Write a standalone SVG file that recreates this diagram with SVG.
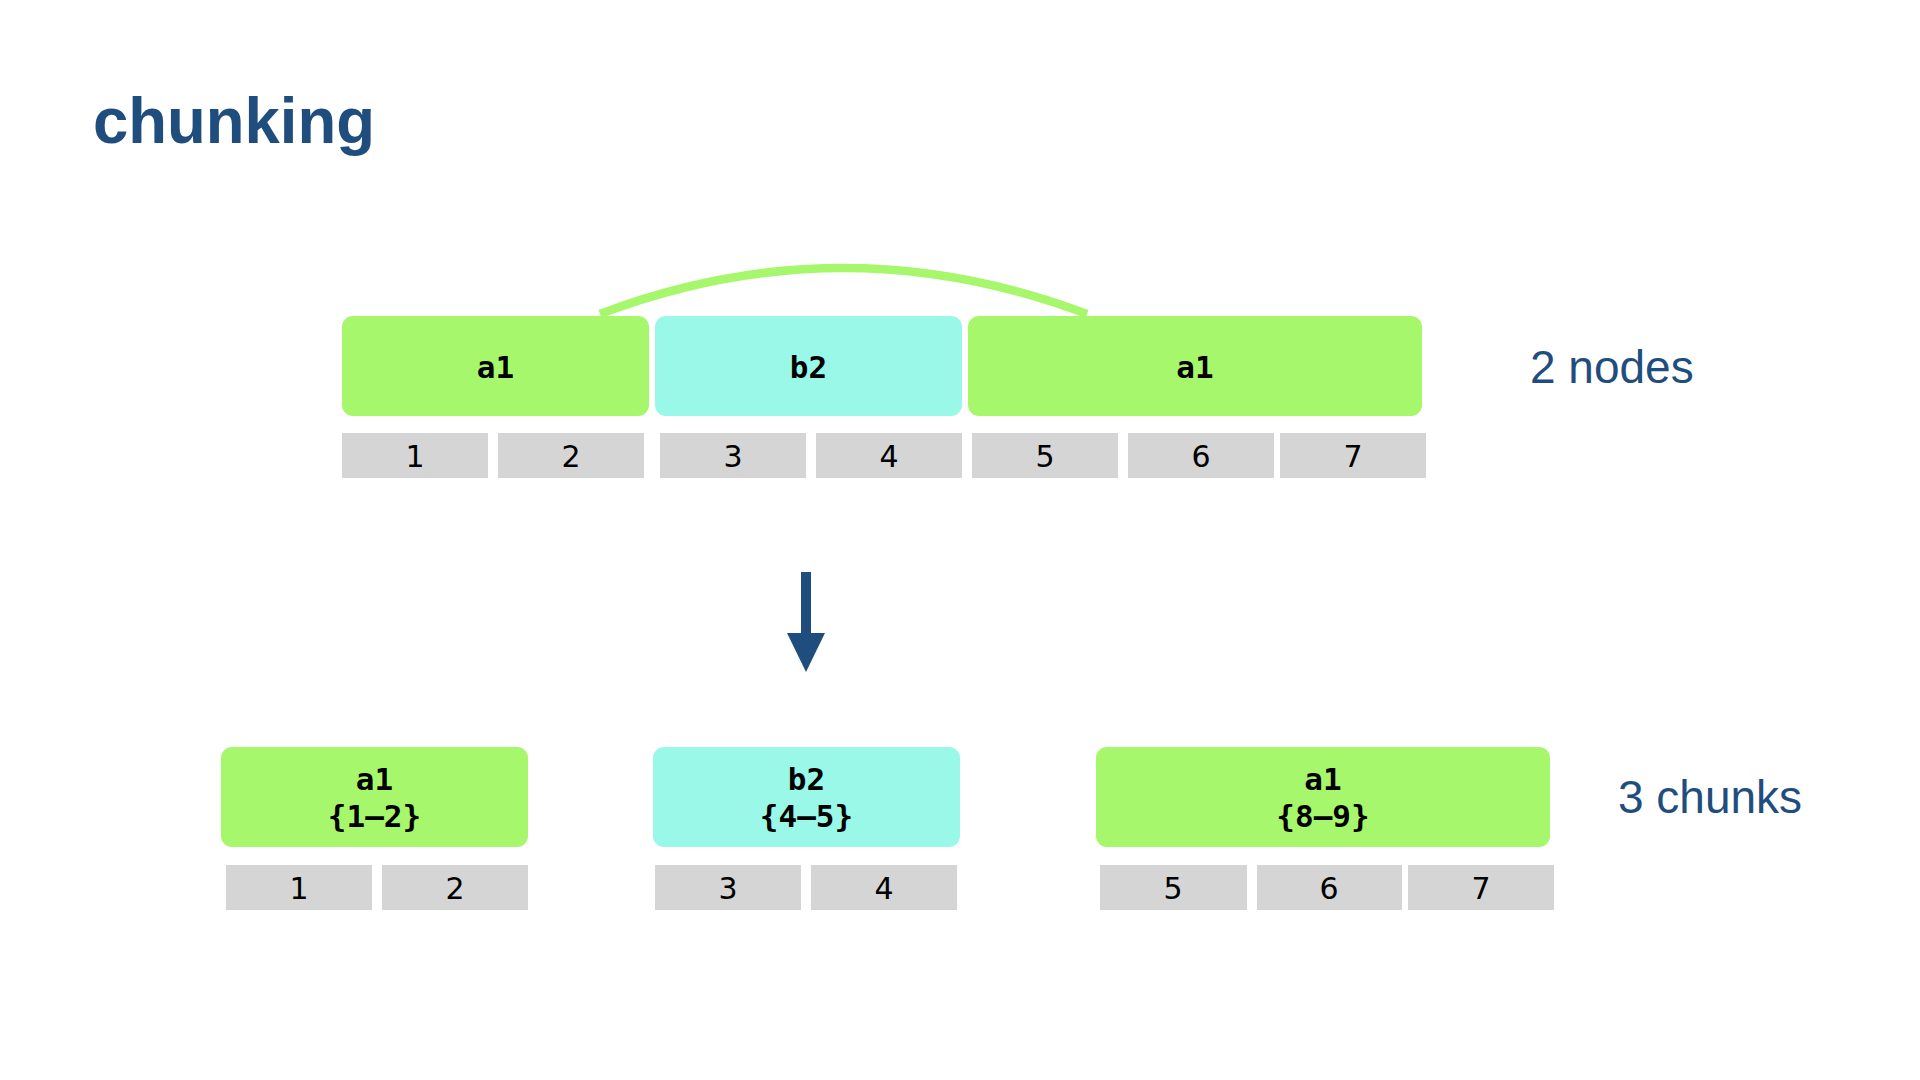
<svg xmlns="http://www.w3.org/2000/svg" width="1920" height="1080" viewBox="0 0 1920 1080">
  <style>
    .g { fill: #a6f76b; }
    .c { fill: #99f8e8; }
    .cell { fill: #d5d5d5; }
    .lbl { font-family: "DejaVu Sans Mono", "Liberation Mono", monospace; font-weight: bold; font-size: 31px; fill: #000; text-anchor: middle; }
    .num { font-family: "DejaVu Sans", "Liberation Sans", sans-serif; font-size: 30px; fill: #000; text-anchor: middle; }
    .side { font-family: "Liberation Sans", Arial, sans-serif; font-size: 46px; fill: #1f4e7e; }
    .title { font-family: "Liberation Sans", Arial, sans-serif; font-weight: bold; font-size: 65px; fill: #1f4e7e; }
  </style>
  <rect width="1920" height="1080" fill="#ffffff"/>
  <text class="title" x="93" y="143" textLength="282" lengthAdjust="spacingAndGlyphs">chunking</text>

  <g id="connectors">
    <path d="M 600 314 Q 843 222 1087 314" fill="none" stroke="#a6f76b" stroke-width="8.5"/>
    <rect x="801" y="572" width="10" height="62" fill="#1f4e7e"/>
    <polygon points="787,633 825,633 806,672" fill="#1f4e7e"/>
  </g>

  <!-- top row -->
  <g id="node-a1-top-left">
    <rect class="g" x="342" y="316" width="307" height="100" rx="11"/>
    <text class="lbl" x="495.5" y="378">a1</text>
  </g>
  <g id="node-b2-top">
    <rect class="c" x="655" y="316" width="307" height="100" rx="11"/>
    <text class="lbl" x="808.5" y="378">b2</text>
  </g>
  <g id="node-a1-top-right">
    <rect class="g" x="968" y="316" width="454" height="100" rx="11"/>
    <text class="lbl" x="1195" y="378">a1</text>
  </g>
  <g id="cells-top">
    <rect class="cell" x="342" y="433" width="146" height="45"/>
    <text class="num" x="415" y="467">1</text>
    <rect class="cell" x="498" y="433" width="146" height="45"/>
    <text class="num" x="571" y="467">2</text>
    <rect class="cell" x="660" y="433" width="146" height="45"/>
    <text class="num" x="733" y="467">3</text>
    <rect class="cell" x="816" y="433" width="146" height="45"/>
    <text class="num" x="889" y="467">4</text>
    <rect class="cell" x="972" y="433" width="146" height="45"/>
    <text class="num" x="1045" y="467">5</text>
    <rect class="cell" x="1128" y="433" width="146" height="45"/>
    <text class="num" x="1201" y="467">6</text>
    <rect class="cell" x="1280" y="433" width="146" height="45"/>
    <text class="num" x="1353" y="467">7</text>
  </g>
  <text class="side" x="1530" y="383">2 nodes</text>

  <!-- bottom row -->
  <g id="chunk-a1-1">
    <rect class="g" x="221" y="747" width="307" height="100" rx="11"/>
    <text class="lbl" x="374.5" y="790">a1</text>
    <text class="lbl" x="374.5" y="827">{1–2}</text>
  </g>
  <g id="chunk-b2">
    <rect class="c" x="653" y="747" width="307" height="100" rx="11"/>
    <text class="lbl" x="806.5" y="790">b2</text>
    <text class="lbl" x="806.5" y="827">{4–5}</text>
  </g>
  <g id="chunk-a1-2">
    <rect class="g" x="1096" y="747" width="454" height="100" rx="11"/>
    <text class="lbl" x="1323" y="790">a1</text>
    <text class="lbl" x="1323" y="827">{8–9}</text>
  </g>
  <g id="cells-bottom">
    <rect class="cell" x="226" y="865" width="146" height="45"/>
    <text class="num" x="299" y="899">1</text>
    <rect class="cell" x="382" y="865" width="146" height="45"/>
    <text class="num" x="455" y="899">2</text>
    <rect class="cell" x="655" y="865" width="146" height="45"/>
    <text class="num" x="728" y="899">3</text>
    <rect class="cell" x="811" y="865" width="146" height="45"/>
    <text class="num" x="884" y="899">4</text>
    <rect class="cell" x="1100" y="865" width="147" height="45"/>
    <text class="num" x="1173" y="899">5</text>
    <rect class="cell" x="1257" y="865" width="145" height="45"/>
    <text class="num" x="1329" y="899">6</text>
    <rect class="cell" x="1408" y="865" width="146" height="45"/>
    <text class="num" x="1481" y="899">7</text>
  </g>
  <text class="side" x="1618" y="813">3 chunks</text>
</svg>
